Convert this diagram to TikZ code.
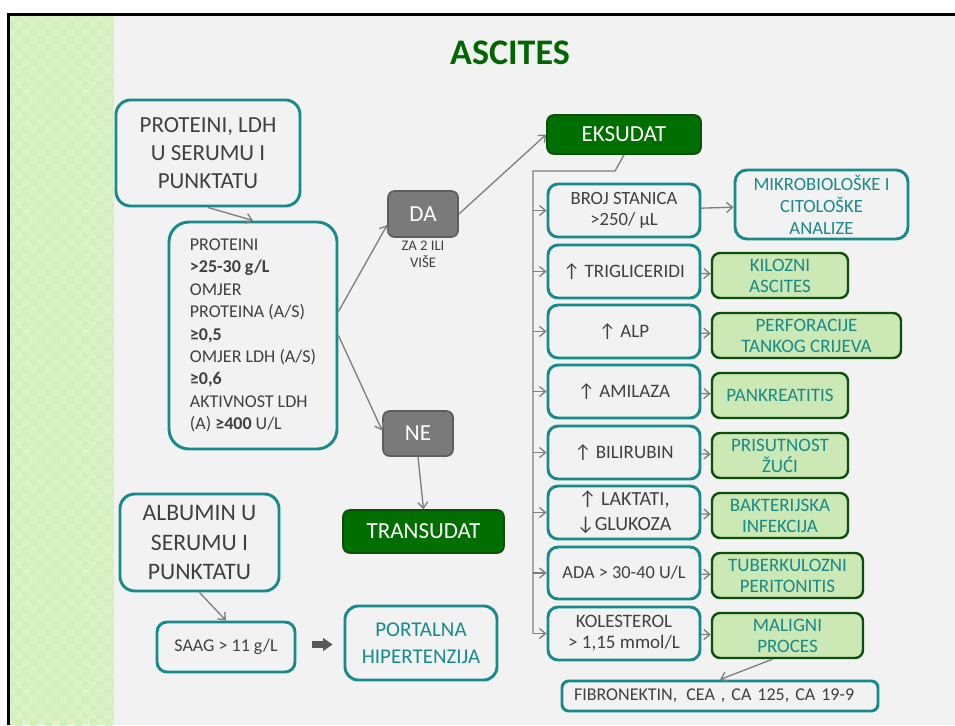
\documentclass[tikz,border=0pt]{standalone}
\usepackage{fontspec}
\setmainfont{Carlito}
\usetikzlibrary{arrows.meta,calc,patterns}

\definecolor{bg}{HTML}{F2F2F2}
\definecolor{strip}{HTML}{DAF2C4}
\definecolor{stripdot}{HTML}{D4EFBD}
\definecolor{tealline}{HTML}{178A8A}
\definecolor{txt}{HTML}{404040}
\definecolor{conn}{HTML}{7F7F7F}
\definecolor{dgreen}{HTML}{006E00}
\definecolor{dgreenline}{HTML}{0B4F0B}
\definecolor{lgreen}{HTML}{CCE8B4}
\definecolor{titlegreen}{HTML}{006600}
\definecolor{grayfill}{HTML}{7A7A7A}
\definecolor{grayline}{HTML}{5E5E5E}
\definecolor{blockarrow}{HTML}{595959}

% font size and leading, in pt
\newcommand\fs[2]{\fontsize{#1}{#2}\selectfont}
% box given by its corners (x1,y1) (x2,y2) in px, y downwards
\newcommand\pbox[7]{\node[#6, minimum width={(#4-#2)*0.75pt}, minimum height={(#5-#3)*0.75pt}] (#1) at ({(#2+#4)/2},{(#3+#5)/2}) {#7};}

\begin{document}
\begin{tikzpicture}[x=0.75pt,y=-0.75pt,
  tealbox/.style={draw=tealline, line width=2.2pt, rounded corners=7.5pt, fill=bg, text=txt, align=center, inner sep=2pt},
  greenbox/.style={draw=dgreenline, line width=1.8pt, rounded corners=6pt, fill=lgreen, text=tealline, align=center, inner sep=2pt, font=\fs{14.25}{15.75}},
  graybox/.style={draw=grayline, line width=1.3pt, rounded corners=5pt, fill=grayfill, text=white, font=\fs{17.25}{21}},
  darkbox/.style={draw=dgreenline, line width=1.2pt, rounded corners=5pt, fill=dgreen, text=white, font=\fs{17.25}{21}},
  conline/.style={draw=conn, line width=1pt},
  arr/.style={conline, -{Straight Barb[length=4.5pt,width=7.5pt]}}]
\useasboundingbox (0,0) rectangle (955,725);

% slide background, frame and the patterned side strip
\fill[white] (0,0) rectangle (955,725);
\fill[bg] (8,14) rectangle (955,725);
\fill[strip] (10,16) rectangle (114,725);
\fill[pattern=checkerboard, pattern color=stripdot] (10,16) rectangle (114,725);
\draw[black, line width=1.9pt] (8.5,725) -- (8.5,14.5) -- (955,14.5);

% title
\node[text=titlegreen, font=\fs{27}{32}\bfseries] (title) at (510,53.3) {ASCITES};

% left part: protein / LDH criteria
\pbox{q1}{116}{100}{300}{206}{tealbox, rounded corners=11pt, font=\fs{17.25}{21}}{PROTEINI, LDH\\U SERUMU I\\PUNKTATU}
\pbox{crit}{169}{222}{337}{449}{tealbox, rounded corners=15pt, align=left, font=\fs{13.5}{16.8}}{PROTEINI\\\textbf{>25-30 g/L}\\OMJER\\PROTEINA (A/S)\\\textbf{≥0,5}\\OMJER LDH (A/S)\\\textbf{≥0,6}\\AKTIVNOST LDH\\(A) \textbf{≥400} U/L}

\pbox{da}{388}{191}{458}{237}{graybox}{DA}
\node[text=txt, align=center, font=\fs{11}{12.75}] (dalabel) at (423,254.5) {ZA 2 ILI\\VIŠE};
\pbox{ne}{383}{411}{453}{456}{graybox}{NE}
\pbox{eks}{547}{115}{701}{154}{darkbox}{EKSUDAT}
\pbox{trans}{343}{510}{504}{553}{darkbox}{TRANSUDAT}

% albumin gradient
\pbox{alb}{120}{494}{279}{591}{tealbox, rounded corners=11pt, font=\fs{17.75}{22}}{ALBUMIN U\\SERUMU I\\PUNKTATU}
\pbox{saag}{157}{622}{295}{672}{tealbox, font=\fs{13.5}{16}}{SAAG > 11 g/L}
\pbox{port}{345}{606}{497}{680}{tealbox, rounded corners=10pt, text=tealline, font=\fs{15.75}{20.25}}{PORTALNA\\HIPERTENZIJA}
\fill[blockarrow] (312,641.2) -- (323,641.2) -- (323,637.8) -- (332.5,644.5) -- (323,651.2) -- (323,647.8) -- (312,647.8) -- cycle;

% exudate findings
\pbox{b1}{548}{184}{700}{237}{tealbox, font=\fs{14}{15.75}}{BROJ STANICA\\>250/ µL}
\pbox{b2}{548}{245}{700}{298}{tealbox, font=\fs{14.25}{16.5}}{↑ TRIGLICERIDI}
\pbox{b3}{548}{305}{700}{358}{tealbox, font=\fs{14.25}{16.5}}{↑ ALP}
\pbox{b4}{548}{365}{700}{418}{tealbox, font=\fs{14.25}{16.5}}{↑ AMILAZA}
\pbox{b5}{548}{426}{700}{479}{tealbox, font=\fs{14.25}{16.5}}{↑ BILIRUBIN}
\pbox{b6}{548}{486}{700}{539}{tealbox, font=\fs{15}{18.5}}{↑ LAKTATI,\\↓GLUKOZA}
\pbox{b7}{548}{547}{700}{599}{tealbox, font=\fs{13.75}{15.75}}{ADA > 30-40 U/L}
\pbox{b8}{548}{607}{700}{660}{tealbox, font=\fs{14.25}{15.75}}{KOLESTEROL\\> 1,15 mmol/L}

% interpretations
\pbox{mik}{735}{170}{908}{239}{tealbox, rounded corners=9pt, text=tealline, font=\fs{14}{16.5}}{MIKROBIOLOŠKE I\\CITOLOŠKE\\ANALIZE}
\pbox{r2}{712}{253}{848}{298}{greenbox}{KILOZNI\\ASCITES}
\pbox{r3}{712}{313}{901}{358}{greenbox}{PERFORACIJE\\TANKOG CRIJEVA}
\pbox{r4}{712}{373}{848}{418}{greenbox}{PANKREATITIS}
\pbox{r5}{712}{433}{848}{478}{greenbox}{PRISUTNOST\\ŽUĆI}
\pbox{r6}{712}{493}{848}{538}{greenbox}{BAKTERIJSKA\\INFEKCIJA}
\pbox{r7}{712}{553}{863}{598}{greenbox}{TUBERKULOZNI\\PERITONITIS}
\pbox{r8}{712}{613}{863}{658}{greenbox}{MALIGNI\\PROCES}
\pbox{fib}{562}{681}{878}{711}{tealbox, rounded corners=5pt, align=left, text width=219pt, inner xsep=9pt, font=\fs{13.5}{15}}{FIBRONEKTIN,\enspace CEA , CA 125, CA 19-9}

% connectors
\draw[arr] (q1.south) -- (crit.north);
\draw[arr] ($(crit.east)+(0,-24)$) -- ($(da.west)+(0,11)$);
\draw[arr] (crit.east) -- ($(ne.west)+(0,-3)$);
\draw[arr] (da.east) -- (eks.west);
\draw[arr] (ne.south) -- (trans.north);
\draw[arr] (alb.south) -- (saag.north);

\coordinate (bend) at (615,171);
\coordinate (trunk) at (533,171);
\draw[conline] (eks.south) -- (bend) -- (trunk) -- (trunk |- b8.west);
\foreach \b in {b1,b2,b3,b4,b5,b6,b7,b8}
  \draw[arr] (trunk |- \b.west) -- (\b.west);

\draw[arr] (b1) -- (mik);
\foreach \i in {2,...,8}
  \draw[arr] (b\i) -- (r\i);
\draw[arr] ($(r8.south)+(-15,0)$) -- (fib.north);
\end{tikzpicture}
\end{document}
